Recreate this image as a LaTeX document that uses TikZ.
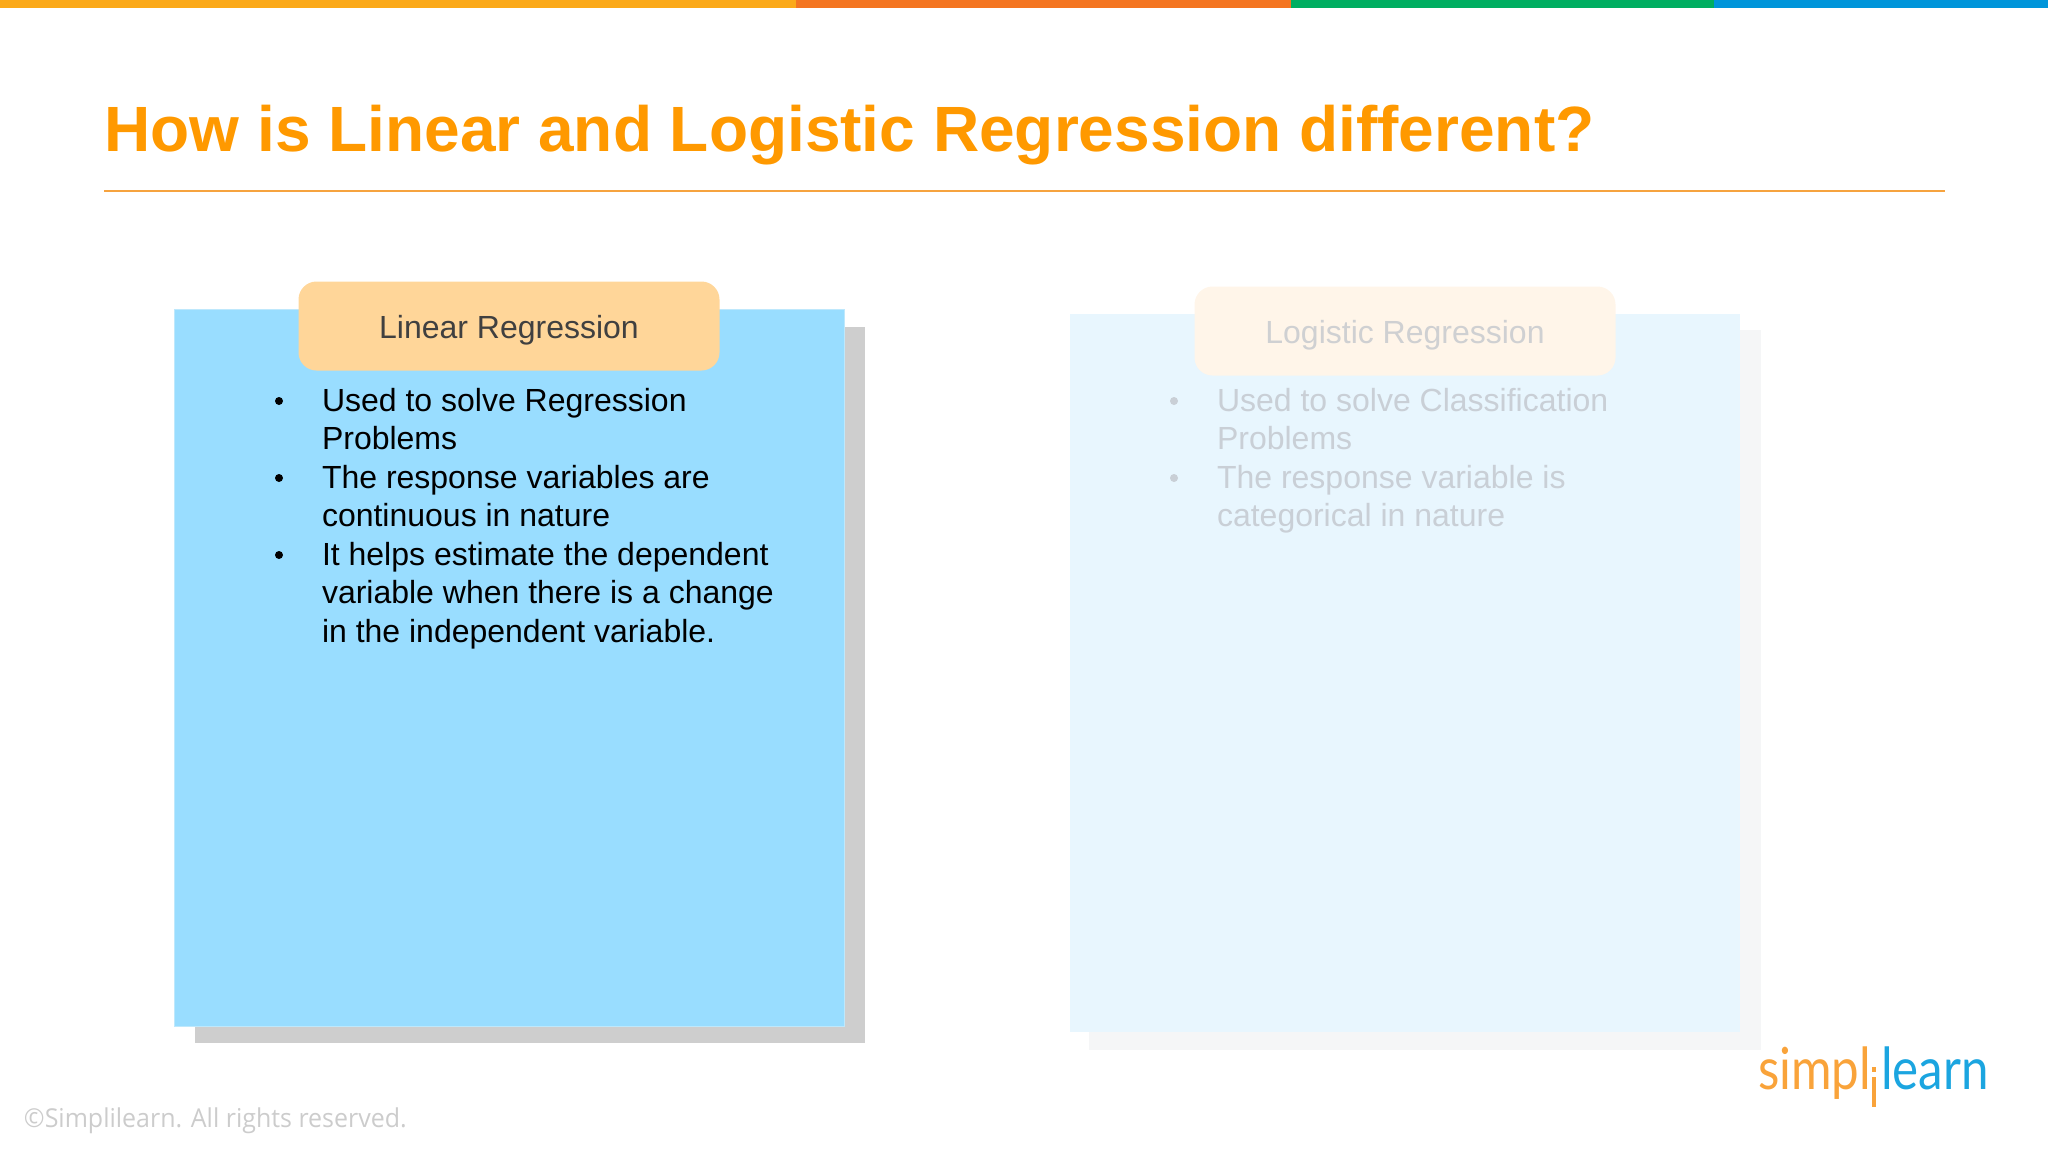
\documentclass[tikz,border=0pt]{standalone}
\usepackage{fontspec}
\setmainfont{Liberation Sans}
\newfontfamily\footfont{Open Sans}
\newfontfamily\logofont{Lato}
\definecolor{barorange}{HTML}{FBA919}
\definecolor{barred}{HTML}{F47521}
\definecolor{bargreen}{HTML}{00AE61}
\definecolor{barblue}{HTML}{0095DA}
\definecolor{titleorange}{HTML}{FF9900}
\definecolor{ruleorange}{HTML}{F6A33F}
\definecolor{logoorange}{HTML}{F9A33A}
\definecolor{logoblue}{HTML}{1BA5E0}
\definecolor{panelblue}{HTML}{99DDFF}
\definecolor{paneledge}{HTML}{BEE8FC}
\definecolor{panelshade}{HTML}{CECECE}
\definecolor{tabfill}{HTML}{FFD699}
\definecolor{tabtext}{HTML}{404040}
\definecolor{fadeblue}{HTML}{E8F6FE}
\definecolor{fadeshade}{HTML}{F5F6F7}
\definecolor{fadetab}{HTML}{FFF5E9}
\definecolor{fadetitle}{HTML}{CFD0D2}
\definecolor{fadetext}{HTML}{C9CFD6}
\tikzset{
  linecopy/.style={anchor=base west,inner sep=0pt,outer sep=0pt,font=\fontsize{16}{19}\selectfont},
  dotmark/.style={circle,inner sep=0pt,minimum size=4pt},
  tabbox/.style={rounded corners=9pt,inner sep=0pt,minimum width=210.5pt,minimum height=44.5pt},
  tablabel/.style={anchor=base,font=\fontsize{16}{19}\selectfont},
  logotext/.style={anchor=base west,font=\logofont\fontsize{29}{34}\selectfont,xscale=0.85}
}
\begin{document}
\begin{tikzpicture}[y=-0.50pt, x=0.50pt, inner sep=0pt, outer sep=0pt]
\useasboundingbox (0,0) rectangle (2048,1152);
% top bar
\path[fill=barorange] (0,0) rectangle (796,8);
\path[fill=barred] (796,0) rectangle (1291,8);
\path[fill=bargreen] (1291,0) rectangle (1714,8);
\path[fill=barblue] (1714,0) rectangle (2048,8);
% heading
\node[anchor=base west,font=\fontsize{32}{38}\selectfont\bfseries,text=titleorange] (heading) at (104.5,151) {How is Linear and Logistic Regression different?};
\path[draw=ruleorange,line width=1pt] (104,190.5) -- (1945,190.5);
% left panel
\path[fill=panelshade] (195,327) rectangle (864.5,1043);
\path[fill=panelblue,draw=paneledge,line width=0.5pt] (174,309) rectangle (844,1026.5);
\node[tabbox,fill=tabfill] (lintab) at (509,326) {};
\node[tablabel,text=tabtext] (lintitle) at (509,338) {Linear Regression};
\foreach \y/\line [count=\i] in {411.3/Used to solve Regression,449.8/Problems,488.3/The response variables are,526.8/continuous in nature,565.3/It helps estimate the dependent,603.8/variable when there is a change,642.3/in the independent variable.}
  \node[linecopy,text=black] (linline\i) at (322,\y) {\line};
\foreach \y [count=\i] in {401,478,555}
  \node[dotmark,fill=black] (lindot\i) at (279,\y) {};
% right panel
\path[fill=fadeshade] (1089,330) rectangle (1761,1050);
\path[fill=fadeblue] (1070,314) rectangle (1740,1032);
\node[tabbox,fill=fadetab] (logtab) at (1405,331) {};
\node[tablabel,text=fadetitle] (logtitle) at (1405,343) {Logistic Regression};
\foreach \y/\line [count=\i] in {411.3/Used to solve Classification,449.8/Problems,488.3/The response variable is,526.8/categorical in nature}
  \node[linecopy,text=fadetext] (logline\i) at (1217,\y) {\line};
\foreach \y [count=\i] in {401,478}
  \node[dotmark,fill=fadetext] (logdot\i) at (1174,\y) {};
% footer
\node[anchor=base west,font=\footfont\fontsize{13}{16}\selectfont,text=black!20,xscale=0.96] (copyline) at (24,1127) {©Simplilearn. All rights reserved.};
% logo
\node[logotext,text=logoorange] (logosimpl) at (1758,1089) {simpl};
\node[logotext,text=logoblue] (logolearn) at (1881,1089) {learn};
\path[fill=logoorange] (1872,1077) rectangle (1876,1107);
\path[fill=logoorange] (1872,1067) rectangle (1876,1072);
\end{tikzpicture}
\end{document}
